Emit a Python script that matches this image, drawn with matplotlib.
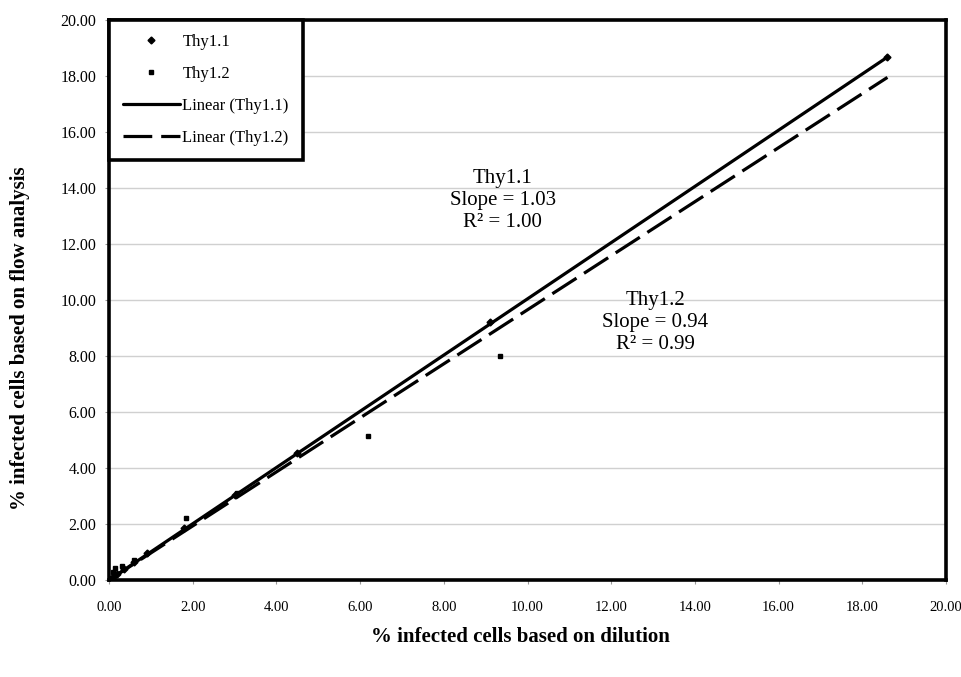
import numpy as np
import matplotlib
matplotlib.use("Agg")
from matplotlib import pyplot as plt

plt.rcParams['font.family'] = ['Liberation Serif', 'DejaVu Serif']

# measured points (% by dilution, % by flow)
thy11_x = [0.0, 0.05, 0.1, 0.2, 0.35, 0.6, 0.9, 1.8, 3.0, 4.5, 9.1, 18.6]
thy11_y = [0.0, 0.05, 0.12, 0.22, 0.38, 0.65, 0.95, 1.85, 3.05, 4.55, 9.2, 18.68]
thy12_x = [0.0, 0.1, 0.15, 0.3, 0.6, 1.85, 3.05, 6.2, 9.35]
thy12_y = [0.05, 0.3, 0.42, 0.5, 0.72, 2.2, 3.1, 5.15, 8.0]

# trendlines as drawn in the figure
fit_slope = [1.004, 0.965]
fit_icept = [0.0, 0.0]
fit_range = [0.0, 18.6]

ticks = np.arange(0, 21, 2)

fig = plt.figure(figsize=(9.62, 6.77), dpi=100)
ax = fig.add_axes([0.1133, 0.1433, 0.8701, 0.8272])

ax.set_xlim(0, 20)
ax.set_ylim(0, 20)
ax.set_xticks(ticks)
ax.set_yticks(ticks)
ax.set_xticklabels([f"{t:.2f}" for t in ticks], fontsize=10.5)
ax.set_yticklabels([f"{t:.2f}" for t in ticks], fontsize=11.5)
ax.tick_params(length=3, color='#999999', pad=12)
ax.tick_params(axis='y', pad=6)
ax.yaxis.grid(True, color='#d0d0d0', lw=1)
ax.set_axisbelow(True)
for s in ax.spines.values():
    s.set_linewidth(2.6)

ax.plot(thy11_x, thy11_y, 'D', color='black', ms=3.5, label='Thy1.1', zorder=4)
ax.plot(thy12_x, thy12_y, 's', color='black', ms=3, label='Thy1.2', zorder=4)

xs = np.array(fit_range)
ax.plot(xs, fit_slope[0] * xs + fit_icept[0], '-', color='black', lw=2.3,
        label='Linear (Thy1.1)', solid_capstyle='round')
ax.plot(xs, fit_slope[1] * xs + fit_icept[1], color='black', lw=2.3,
        dashes=(9, 2.8), label='Linear (Thy1.2)')

ax.text(9.41, 13.55, "Thy1.1\nSlope = 1.03\nR² = 1.00", ha='center', va='center',
        fontsize=15, linespacing=1.2)
ax.text(13.05, 9.2, "Thy1.2\nSlope = 0.94\nR² = 0.99", ha='center', va='center',
        fontsize=15, linespacing=1.2)

leg = ax.legend(loc='upper left', bbox_to_anchor=(0, 1), borderaxespad=0,
                fancybox=False, framealpha=1, edgecolor='black', fontsize=12,
                handlelength=3.4, labelspacing=0.95, borderpad=0.85, handletextpad=0.15)
leg.get_frame().set_linewidth(2.6)

fig.text(0.021, 0.5, "% infected cells based on flow analysis", rotation=90,
         ha='center', va='center', fontsize=15, fontweight='bold')
fig.text(0.541, 0.059, "% infected cells based on dilution", ha='center', va='center',
         fontsize=15, fontweight='bold')

fig.savefig("out.png", dpi=100)
